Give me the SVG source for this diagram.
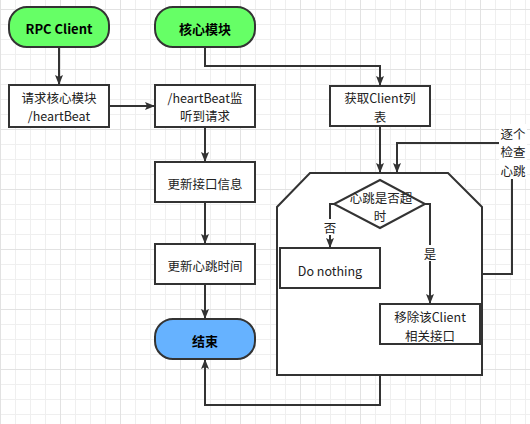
<svg xmlns="http://www.w3.org/2000/svg" width="530" height="424" viewBox="0 0 530 424">
<defs>
<pattern id="grid" x="0" y="9" width="60" height="60" patternUnits="userSpaceOnUse">
<path d="M15.5 0V60M30.5 0V60M45.5 0V60M0 15.5H60M0 30.5H60M0 45.5H60" stroke="#efefef" stroke-width="1" fill="none"/>
<path d="M0.5 0V60M0 0.5H60" stroke="#e2e2e2" stroke-width="1" fill="none"/>
</pattern>
<marker id="arr" viewBox="0 0 10 10" refX="10" refY="5" markerWidth="10" markerHeight="10" markerUnits="userSpaceOnUse" orient="auto">
<path d="M0,1 L10,5 L0,9 L2,5 z" fill="#333"/>
</marker>
<style>
.box{fill:#fff;stroke:#333;stroke-width:2}
.green{fill:#66ff66;stroke:#333;stroke-width:2}
.blue{fill:#66b2ff;stroke:#333;stroke-width:2}
.t{font-family:"Noto Sans CJK SC","Noto Sans",sans-serif;font-size:12.5px;fill:#222;text-anchor:middle;dominant-baseline:central}
.b{font-weight:bold;fill:#000;font-size:13px}
.ln{fill:none;stroke:#333;stroke-width:2}
.lbl{fill:#fff}
</style>
</defs>
<rect width="530" height="424" fill="#fff"/>
<rect width="530" height="424" fill="url(#grid)"/>

<g id="n-rpc"><rect class="green" x="9" y="7" width="100" height="40" rx="18"/><text class="t b" x="59" y="28">RPC Client</text></g>
<g id="n-core"><rect class="green" x="155" y="7" width="100" height="40" rx="18"/><text class="t b" x="205" y="28">核心模块</text></g>
<g id="n-req"><rect class="box" x="9" y="85" width="100" height="42"/><text class="t" x="59" y="97">请求核心模块</text><text class="t" x="59" y="115.5">/heartBeat</text></g>
<g id="n-listen"><rect class="box" x="155" y="85" width="100" height="42"/><text class="t" x="205" y="97">/heartBeat监</text><text class="t" x="205" y="115.5">听到请求</text></g>
<g id="n-get"><rect class="box" x="330" y="86" width="100" height="40"/><text class="t" x="380" y="97.5">获取Client列</text><text class="t" x="380" y="116">表</text></g>
<g id="n-upd1"><rect class="box" x="155" y="162" width="100" height="40"/><text class="t" x="205" y="183">更新接口信息</text></g>
<g id="n-upd2"><rect class="box" x="155" y="244" width="100" height="40"/><text class="t" x="205" y="265">更新心跳时间</text></g>
<g id="n-end"><rect class="blue" x="155" y="319" width="100" height="40" rx="18"/><text class="t b" x="205" y="340">结束</text></g>
<g id="n-loop"><path class="box" d="M310,173 L448,173 L482,207 L482,375 L277,375 L277,207 Z"/></g>
<g id="n-dec"><path class="box" d="M380,180 L425,204 L380,228 L334,204 Z"/><text class="t" x="381" y="197">心跳是否超</text><text class="t" x="380" y="215.5">时</text></g>
<g id="n-nothing"><rect class="box" x="280" y="248" width="100" height="40"/><text class="t" x="330" y="270">Do nothing</text></g>
<g id="n-remove"><rect class="box" x="380" y="304" width="100" height="40"/><text class="t" x="430" y="316.5">移除该Client</text><text class="t" x="430" y="335">相关接口</text></g>

<g id="connectors">
<path class="ln" d="M59,47 V85" marker-end="url(#arr)"/>
<path class="ln" d="M109,106 H155" marker-end="url(#arr)"/>
<path class="ln" d="M205,47 V66 H380 V86" marker-end="url(#arr)"/>
<path class="ln" d="M205,127 V162" marker-end="url(#arr)"/>
<path class="ln" d="M205,202 V244" marker-end="url(#arr)"/>
<path class="ln" d="M205,284 V319" marker-end="url(#arr)"/>
<path class="ln" d="M380,126 V173" marker-end="url(#arr)"/>
<path class="ln" d="M482,274 H512 V143 H397 V173" marker-end="url(#arr)"/>
<path class="ln" d="M334,204 H330 V248" marker-end="url(#arr)"/>
<path class="ln" d="M425,204 H430 V304" marker-end="url(#arr)"/>
<path class="ln" d="M380,375 V405 H205 V359" marker-end="url(#arr)"/>
<rect class="lbl" x="499" y="124" width="28" height="55"/>
<text class="t" x="513" y="133">逐个</text><text class="t" x="513" y="151.5">检查</text><text class="t" x="513" y="170">心跳</text>
<rect class="lbl" x="323" y="219" width="14" height="16"/><text class="t" x="330" y="227">否</text>
<rect class="lbl" x="423" y="245" width="14" height="16"/><text class="t" x="430" y="253">是</text>
</g>
</svg>
